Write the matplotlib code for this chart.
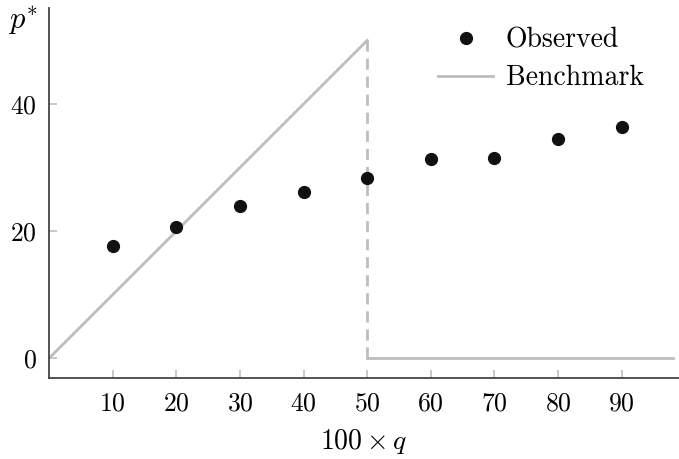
import matplotlib.pyplot as plt

plt.rcParams['font.family'] = 'cmr10'
plt.rcParams['mathtext.fontset'] = 'cm'
plt.rcParams['axes.formatter.use_mathtext'] = True

# observed data
q_obs = [10, 20, 30, 40, 50, 60, 70, 80, 90]
p_obs = [17.6, 20.6, 23.9, 26.1, 28.3, 31.3, 31.5, 34.5, 36.4]

# benchmark: rises to the cutoff, then drops to zero
bench_up_x = [0, 50]
bench_up_y = [0, 50]
bench_drop_x = [50, 50]
bench_drop_y = [50, 0]
bench_flat_x = [50, 98]
bench_flat_y = [0, 0]

gray = '#bdbdbd'

fig = plt.figure(figsize=(6.79, 4.59), dpi=100)
ax = fig.add_axes([0.0722, 0.1765, 0.9278, 0.806])

ax.plot(bench_up_x, bench_up_y, color=gray, lw=2, label='Benchmark')
ax.plot(bench_drop_x, bench_drop_y, color=gray, lw=2, ls=(0, (4, 2.5)))
ax.plot(bench_flat_x, bench_flat_y, color=gray, lw=2)
ax.plot(q_obs, p_obs, 'o', color='#111111', ms=8.5, label='Observed', zorder=3)

ax.set_xlim(0, 99)
ax.set_ylim(-3.1, 55.1)
ax.set_xticks([10, 20, 30, 40, 50, 60, 70, 80, 90])
ax.set_yticks([0, 20, 40])
ax.tick_params(direction='in', length=6, width=1.2, color=gray, labelsize=18.5)
ax.tick_params(axis='x', pad=10)
ax.tick_params(axis='y', pad=9)

for s in ['top', 'right']:
    ax.spines[s].set_visible(False)
for s in ['left', 'bottom']:
    ax.spines[s].set_color('#444444')
    ax.spines[s].set_linewidth(1.3)

ax.set_xlabel(r'$100 \times q$', fontsize=20, labelpad=8)
fig.text(0.012, 0.955, r'$p^{*}$', fontsize=22, ha='left', va='center')

handles, labels = ax.get_legend_handles_labels()
ax.legend(handles[::-1], labels[::-1], loc='upper right', frameon=False, fontsize=20,
          bbox_to_anchor=(0.975, 1.0), handlelength=2.0, handletextpad=0.45,
          labelspacing=0.4, borderaxespad=0.3)

fig.savefig('out.png', dpi=100)
